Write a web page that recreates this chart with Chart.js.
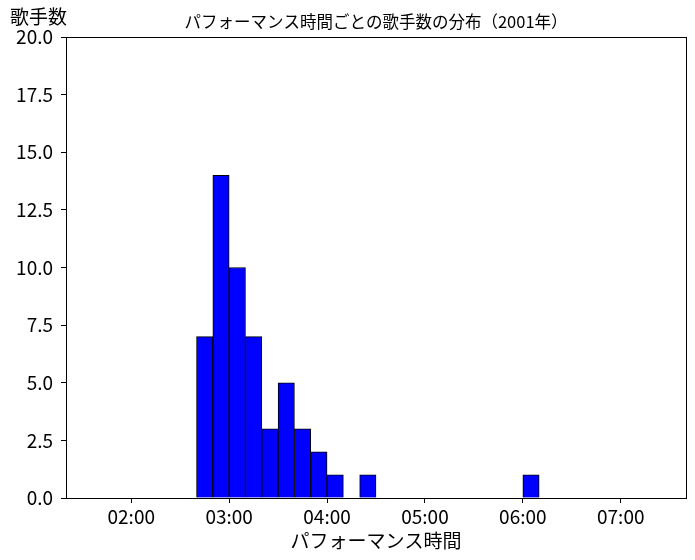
<!DOCTYPE html>
<html>
<head>
<meta charset="utf-8">
<script src="https://cdn.jsdelivr.net/npm/chart.js@4"></script>
<style>
  html, body { margin: 0; padding: 0; background: #fff; }
  #wrap { width: 695px; height: 560px; }
</style>
</head>
<body>
<div id="wrap"><canvas id="hist"></canvas></div>
<script>
// 10-minute bins (start time) and number of singers in each
const binStarts = ['02:40', '02:50', '03:00', '03:10', '03:20', '03:30', '03:40', '03:50', '04:00', '04:10', '04:20', '06:00'];
const singerCounts = [7, 14, 10, 7, 3, 5, 3, 2, 1, 0, 1, 1];
const xTickLabels = ['02:00', '03:00', '04:00', '05:00', '06:00', '07:00'];
const yTickValues = [0, 2.5, 5, 7.5, 10, 12.5, 15, 17.5, 20];

const chartTitle = 'パフォーマンス時間ごとの歌手数の分布（2001年）';
const xTitle = 'パフォーマンス時間';
const yTitle = '歌手数';

const BIN = 10;
const FONT = '"Noto Sans CJK JP", "Noto Sans", sans-serif';

const toMin = s => {
  const p = s.split(':');
  return (+p[0]) * 60 + (+p[1]);
};
const toLabel = m => {
  const h = Math.floor(m / 60), mm = Math.round(m % 60);
  return String(h).padStart(2, '0') + ':' + String(mm).padStart(2, '0');
};

const startMins = binStarts.map(toMin);
const points = startMins.map((m, i) => ({ x: m + BIN / 2, y: singerCounts[i] }));

const frameAndText = {
  id: 'frameAndText',
  afterDatasetsDraw(chart) {
    const { ctx, chartArea: a } = chart;
    ctx.save();
    ctx.strokeStyle = '#000';
    ctx.lineWidth = 1;
    ctx.strokeRect(Math.round(a.left) + 0.5, Math.round(a.top) + 0.5,
      Math.round(a.right - a.left), Math.round(a.bottom - a.top));
    ctx.restore();
  },
  afterDraw(chart) {
    const { ctx, chartArea: a } = chart;
    ctx.save();
    ctx.fillStyle = '#000';
    ctx.textBaseline = 'middle';
    ctx.font = '16.5px ' + FONT;
    ctx.textAlign = 'center';
    ctx.fillText(chartTitle, (a.left + a.right) / 2, 22);
    ctx.font = '19px ' + FONT;
    ctx.textAlign = 'left';
    ctx.fillText(yTitle, 10, 17);
    ctx.restore();
  }
};

Chart.defaults.color = '#000';
Chart.defaults.font.family = FONT;

new Chart(document.getElementById('hist'), {
  type: 'bar',
  data: {
    datasets: [{
      label: yTitle,
      data: points,
      backgroundColor: '#0000ff',
      borderColor: '#000',
      borderWidth: 1,
      borderSkipped: 'start',
      barPercentage: 1.0,
      categoryPercentage: 1.0
    }]
  },
  options: {
    responsive: true,
    maintainAspectRatio: false,
    animation: false,
    layout: { padding: { top: 37, right: 9, left: 0, bottom: 0 } },
    plugins: {
      legend: { display: false },
      title: { display: false },
      tooltip: { enabled: false }
    },
    scales: {
      x: {
        type: 'linear',
        min: 80,
        max: 460,
        offset: false,
        grid: { offset: false, drawOnChartArea: false, drawTicks: true, tickLength: 5, tickColor: '#000' },
        border: { display: true, color: '#000' },
        afterBuildTicks: scale => {
          scale.ticks = xTickLabels.map(s => ({ value: toMin(s) }));
        },
        afterFit: scale => { scale.height = 62; },
        ticks: {
          font: { size: 19 },
          padding: 2,
          maxRotation: 0,
          callback: v => toLabel(v)
        },
        title: {
          display: true,
          text: xTitle,
          font: { size: 19 },
          padding: { top: 0, bottom: 8 }
        }
      },
      y: {
        min: 0,
        max: 20,
        grid: { drawOnChartArea: false, drawTicks: true, tickLength: 5, tickColor: '#000' },
        border: { display: true, color: '#000' },
        afterBuildTicks: scale => {
          scale.ticks = yTickValues.map(v => ({ value: v }));
        },
        afterFit: scale => { scale.width = 66; },
        ticks: {
          font: { size: 19 },
          padding: 8,
          callback: v => v.toFixed(1)
        }
      }
    }
  },
  plugins: [frameAndText]
});
</script>
</body>
</html>
